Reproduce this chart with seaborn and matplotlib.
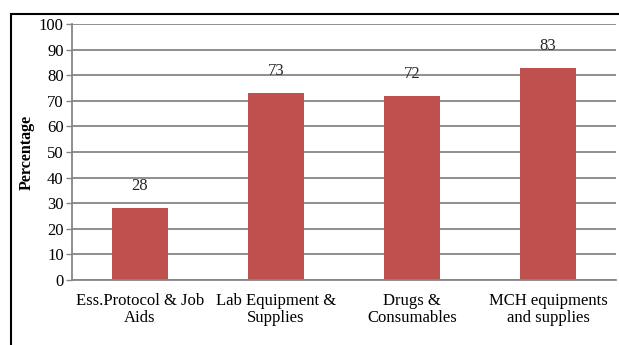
import matplotlib
matplotlib.use("Agg")
import matplotlib.pyplot as plt
import seaborn as sns
import pandas as pd
from matplotlib.patches import Rectangle

categories = ["Ess.Protocol & Job\nAids", "Lab Equipment &\nSupplies", "Drugs &\nConsumables", "MCH equipments\nand supplies"]
values = [28, 73, 72, 83]
yticks = list(range(0, 101, 10))

sns.set_theme(style="white")
plt.rcParams['font.family'] = ['Liberation Serif', 'DejaVu Serif']

df = pd.DataFrame({"cat": categories, "val": values})

fig = plt.figure(figsize=(6.19, 3.45), dpi=100)
ax = fig.add_axes([0.1163, 0.1884, 0.879, 0.742])
sns.barplot(data=df, x="cat", y="val", color="#C0504D", saturation=1, width=0.41, ax=ax, linewidth=0)
ax.set_ylim(0, 100)
ax.set_yticks(yticks)
ax.set_yticklabels([str(t) for t in yticks], fontsize=12)
ax.tick_params(axis='y', length=4, width=1, color="#868686", pad=2, left=True, labelcolor="black")
ax.tick_params(axis='x', length=0, pad=9, labelsize=12, labelcolor="black")
ax.yaxis.grid(True, color="#868686", linewidth=1.3)
ax.set_axisbelow(True)
for s in ["top", "right"]:
    ax.spines[s].set_visible(False)
for s in ["left", "bottom"]:
    ax.spines[s].set_color("#868686")
    ax.spines[s].set_linewidth(1.3)
ax.set_xlabel("")
ax.set_ylabel("Percentage", fontsize=11.5, fontweight="bold", labelpad=3, color="black")
for p, v in zip(ax.patches, values):
    ax.annotate(str(v), (p.get_x() + p.get_width() / 2, p.get_height()),
                xytext=(0, 10), textcoords="offset points", ha="center", va="bottom", fontsize=12)
for lbl in ax.get_xticklabels():
    lbl.set_multialignment("center")
    lbl.set_linespacing(1.15)

fig.patches.append(Rectangle((11 / 619, -0.1), 1.2, (345 - 14) / 345 + 0.1, transform=fig.transFigure,
                             fill=False, edgecolor="black", linewidth=1.5, clip_on=False))
fig.savefig("out.png", dpi=100)
